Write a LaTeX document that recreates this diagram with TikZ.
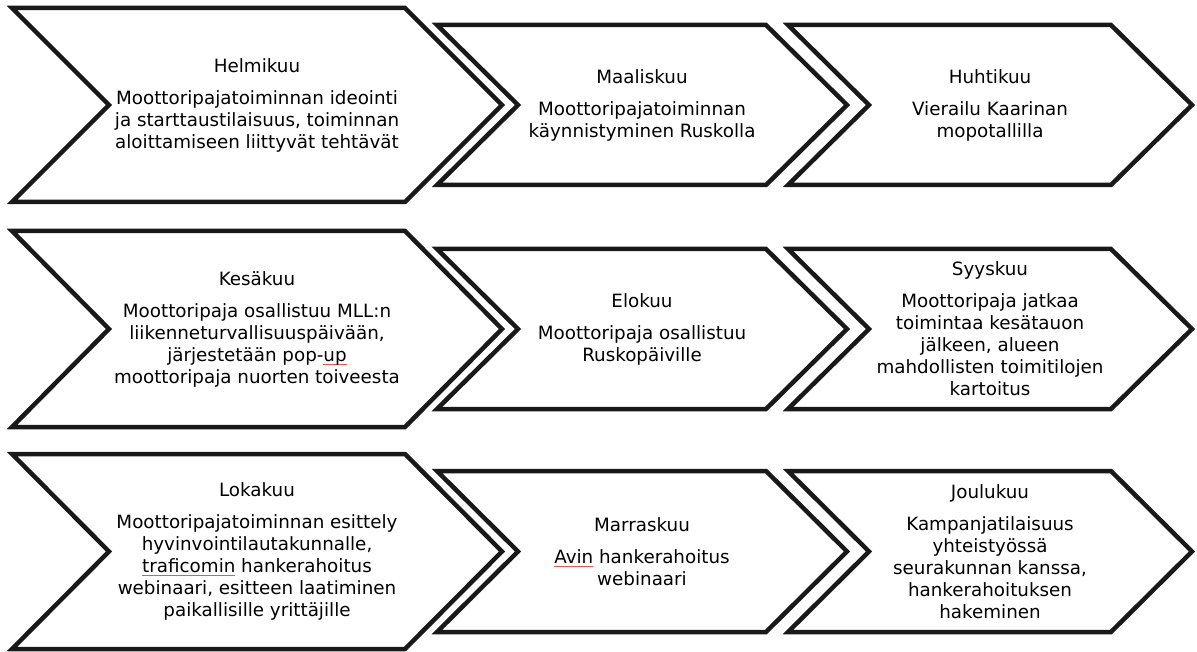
\documentclass[tikz,border=0pt]{standalone}
\usepackage{fontspec}
\setmainfont{DejaVu Sans}
\newcommand\spellmark[1]{\setbox0\hbox{#1}\rlap{\color{red!70}\rule[-3pt]{\wd0}{0.5pt}}\box0\relax}
% left edge, depth, top-right x, centre y, half height
\newcommand\mychev[5]{\draw[chevline] ({#1},{#4-#5}) -- ({#3},{#4-#5}) -- ({#3+#2},{#4}) -- ({#3},{#4+#5}) -- ({#1},{#4+#5}) -- ({#1+#2},{#4}) -- cycle;}
\tikzset{
  chevline/.style={draw=black!90, line width=4.5pt, miter limit=10, fill=white},
  chevtext/.style={align=center, inner sep=0pt, text=black, font=\fontsize{18.3}{22}\selectfont},
}
\begin{document}
\begin{tikzpicture}[x=1pt,y=-1pt]
\useasboundingbox (0,0) rectangle (1197,652);
% row 1
\mychev{12}{97}{405}{105}{97}
\mychev{437}{81}{766}{105}{80}
\mychev{788}{81}{1111}{105}{80}
\node[chevtext] (helmi) at (257,105) {Helmikuu\\[10pt]Moottoripajatoiminnan ideointi\\ja starttaustilaisuus, toiminnan\\aloittamiseen liittyvät tehtävät};
\node[chevtext] (maalis) at (642,105) {Maaliskuu\\[10pt]Moottoripajatoiminnan\\käynnistyminen Ruskolla};
\node[chevtext] (huhti) at (990,105) {Huhtikuu\\[10pt]Vierailu Kaarinan\\mopotallilla};
% row 2
\mychev{12}{97}{405}{329}{98}
\mychev{437}{81}{766}{329}{80}
\mychev{788}{81}{1111}{329}{80}
\node[chevtext] (kesa) at (257,329) {Kesäkuu\\[10pt]Moottoripaja osallistuu MLL:n\\liikenneturvallisuuspäivään,\\järjestetään pop-\spellmark{up}\\moottoripaja nuorten toiveesta};
\node[chevtext] (elo) at (642,329) {Elokuu\\[10pt]Moottoripaja osallistuu\\Ruskopäiville};
\node[chevtext] (syys) at (990,329) {Syyskuu\\[10pt]Moottoripaja jatkaa\\toimintaa kesätauon\\jälkeen, alueen\\mahdollisten toimitilojen\\kartoitus};
% row 3
\mychev{12}{97}{405}{551.5}{97.5}
\mychev{437}{81}{766}{551.5}{80.5}
\mychev{788}{81}{1111}{551.5}{80.5}
\node[chevtext] (loka) at (257,551.5) {Lokakuu\\[10pt]Moottoripajatoiminnan esittely\\hyvinvointilautakunnalle,\\\spellmark{traficomin} hankerahoitus\\webinaari, esitteen laatiminen\\paikallisille yrittäjille};
\node[chevtext] (marras) at (642,551.5) {Marraskuu\\[10pt]\spellmark{Avin} hankerahoitus\\webinaari};
\node[chevtext] (joulu) at (990,551.5) {Joulukuu\\[10pt]Kampanjatilaisuus\\yhteistyössä\\seurakunnan kanssa,\\hankerahoituksen\\hakeminen};
\end{tikzpicture}
\end{document}
